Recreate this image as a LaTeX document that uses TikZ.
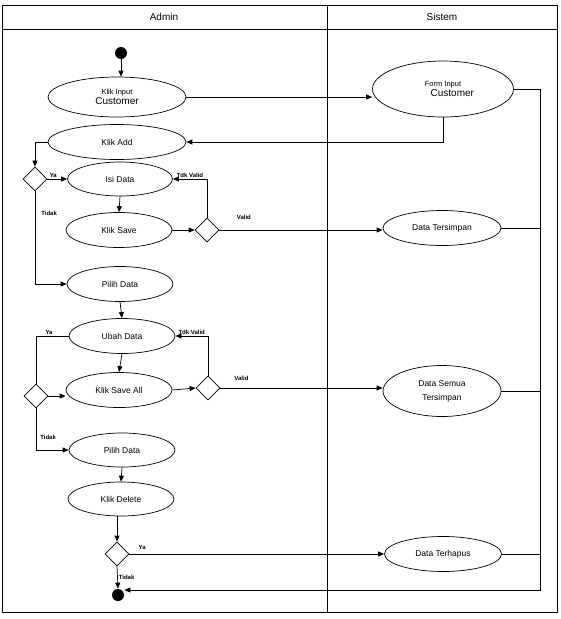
\documentclass[tikz,border=0pt]{standalone}
\usepackage{fontspec}
\setmainfont{Liberation Sans}
\usetikzlibrary{shapes.geometric, positioning, arrows.meta}

\begin{document}
\begin{tikzpicture}[x=1pt, y=-1pt, auto, line width=0.7pt, >={Triangle[length=6pt, width=5pt]},
    act/.style={ellipse, draw, inner sep=0pt, minimum width=106pt, minimum height=35pt, align=center, font=\fontsize{8.5}{10}\selectfont},
    dec/.style={diamond, draw, inner sep=0pt, minimum size=24pt},
    dot/.style={circle, fill, inner sep=0pt, minimum size=12pt},
    lbl/.style={font=\fontsize{6}{7}\selectfont\bfseries, inner sep=1pt}]
    \useasboundingbox (0,0) rectangle (561,619);

    % swimlanes
    \draw (2,5) rectangle (557,612);
    \draw (2,29) -- (557,29);
    \draw (327,5) -- (327,612);
    \node[font=\fontsize{10}{12}\selectfont] (admin) at (164,17) {Admin};
    \node[font=\fontsize{10}{12}\selectfont] (sistem) at (442,17) {Sistem};

    % admin lane
    \node[dot] (start) at (121,53) {};
    \node[act, minimum width=138pt, minimum height=40pt] (klikinput) at (117,97) {\fontsize{7.5}{8}\selectfont Klik Input\\ \fontsize{10}{11}\selectfont Customer};
    \node[act, minimum width=138pt] (klikadd) at (117,142) {Klik Add};
    \node[dec] (d1) at (35,179) {};
    \node[act, minimum width=105pt, minimum height=34pt] (isidata) at (120,179) {Isi Data};
    \node[act] (klsave) at (119,230) {Klik Save};
    \node[dec] (d2) at (207,230) {};
    \node[act] (pilih1) at (120,284) {Pilih Data};
    \node[act] (ubah) at (122,336) {Ubah Data};
    \node[act] (klsaveall) at (119,390) {Klik Save All};
    \node[dec] (d3) at (36,396) {};
    \node[dec] (d4) at (208,388) {};
    \node[act, minimum height=34pt] (pilih2) at (122,450) {Pilih Data};
    \node[act, minimum height=34pt] (klikdel) at (121,499) {Klik Delete};
    \node[dec] (d5) at (117,554) {};
    \node[dot] (final) at (118,595) {};

    % sistem lane
    \node[act, minimum width=141pt, minimum height=56pt] (formin) at (443,89) {\fontsize{7.5}{8}\selectfont Form Input\\ \hspace{2.2em}\fontsize{10}{11}\selectfont Customer};
    \node[act, minimum width=118pt] (simpan) at (442,228) {Data Tersimpan};
    \node[act, minimum width=118pt, minimum height=51pt, font=\fontsize{8.5}{14}\selectfont] (semua) at (442,391) {Data Semua\\ Tersimpan};
    \node[act, minimum width=117pt] (hapus) at (443,554) {Data Terhapus};
    \coordinate (bus) at (540,590);

    \path[->]
    (start) edge (start |- klikinput.north)
    (klikinput.east) edge (klikinput.east -| formin.west)
    (d1.east) edge node[lbl, pos=0.3] {Ya} (isidata.west)
    (isidata.south) edge (klsave.north)
    (klsave.east) edge (d2.west)
    (d2.east) edge node[lbl, pos=0.15, above=9pt] {Valid} (d2 -| simpan.west)
    (pilih1.south) edge (ubah.north)
    (ubah.south) edge (klsaveall.north)
    (d3.east) edge (d3.east -| klsaveall.west)
    (klsaveall.east) edge (d4.west)
    (d4.east) edge node[lbl, pos=0.13, above=6pt] {Valid} (d4 -| semua.west)
    (pilih2.south) edge (klikdel.north)
    (d5.north |- klikdel.south) edge (d5.north)
    (d5.east) edge node[lbl, pos=0.05, above=3pt] {Ya} (d5 -| hapus.west)
    (d5.south) edge node[lbl, pos=0.5] {Tidak} (final.north);

    \draw[->] (formin.south) |- (klikadd.east);
    \draw[->] (klikadd.west) -| (d1.north);
    \draw[->] (d1.south) |- node[lbl, pos=0.12, right=5pt] {Tidak} (pilih1.west);
    \draw[->] (d2.north) |- node[lbl, pos=0.75, swap] {Tdk Valid} (isidata.east);
    \draw (ubah.west) -| node[lbl, pos=0.3, swap] {Ya} (d3.north);
    \draw[->] (d3.south) |- node[lbl, pos=0.35, right=3pt] {Tidak} (pilih2.west);
    \draw[->] (d4.north) |- node[lbl, pos=0.75, swap] {Tdk Valid} (ubah.east);
    \draw[->] (formin.east) -| (bus) -- (final.east |- bus);
    \draw (simpan.east) -- (simpan.east -| bus);
    \draw (semua.east) -- (semua.east -| bus);
    \draw (hapus.east) -- (hapus.east -| bus);
\end{tikzpicture}
\end{document}
